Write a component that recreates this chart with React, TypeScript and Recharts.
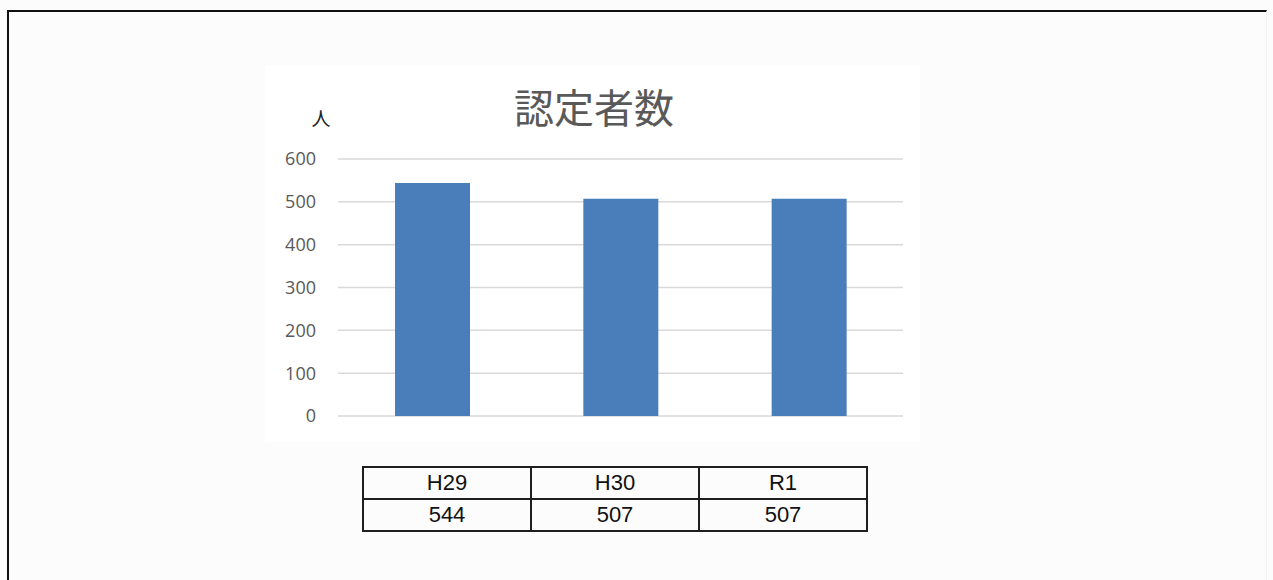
import { BarChart, Bar, XAxis, YAxis, CartesianGrid } from 'recharts';

const years = ['H29', 'H30', 'R1'];
const counts = [544, 507, 507];
const yTicks = [0, 100, 200, 300, 400, 500, 600];

const chartData = years.map((year, i) => ({ year, count: counts[i] }));

const cellStyle: React.CSSProperties = {
  border: '2px solid #1e1e1e',
  textAlign: 'center',
  padding: 0,
  height: 30,
  lineHeight: '30px',
};

export default function App() {
  return (
    <div style={{ position: 'fixed', left: 0, top: 0, width: 1273, height: 580, background: '#fcfcfc', overflow: 'hidden' }}>
      {/* outer frame */}
      <div style={{
        position: 'absolute', left: 7, top: 10, width: 1257, height: 600,
        borderLeft: '2px solid #111', borderTop: '2px solid #111', borderRight: '1px solid #f2f2f2',
      }} />

      {/* chart card */}
      <div style={{ position: 'absolute', left: 265, top: 65, width: 655, height: 377, background: '#ffffff' }}>
        <BarChart width={655} height={377} data={chartData}
                  margin={{ top: 94, right: 17, bottom: 26, left: 0 }}>
          <CartesianGrid vertical={false} stroke="#d9d9d9" strokeWidth={1.5} />
          <XAxis dataKey="year" hide />
          <YAxis
            domain={[0, 600]} ticks={yTicks} interval={0}
            axisLine={false} tickLine={false} width={73} tickMargin={16}
            tick={{ fontSize: 18, fill: '#595959', fontFamily: 'Open Sans, sans-serif' }}
          />
          <Bar dataKey="count" fill="#4a7ebb" barSize={75} isAnimationActive={false} />
        </BarChart>
      </div>

      {/* title and unit */}
      <div style={{
        position: 'absolute', left: 444, top: 78, width: 300, textAlign: 'center',
        fontFamily: '"Noto Sans CJK JP", sans-serif', fontSize: 40, color: '#595959', lineHeight: '56px',
      }}>
        認定者数
      </div>
      <div style={{
        position: 'absolute', left: 311, top: 104, width: 20, textAlign: 'center',
        fontFamily: '"Noto Sans CJK JP", sans-serif', fontSize: 19, color: '#222', lineHeight: '28px',
      }}>
        人
      </div>

      {/* data table under the chart */}
      <table style={{
        position: 'absolute', left: 362, top: 466, width: 506, borderCollapse: 'collapse',
        fontFamily: '"Liberation Sans", Arial, sans-serif', fontSize: 22, color: '#111', tableLayout: 'fixed',
      }}>
        <tbody>
          <tr>
            {years.map(y => <td key={y} style={cellStyle}>{y}</td>)}
          </tr>
          <tr>
            {counts.map((c, i) => <td key={i} style={cellStyle}>{c}</td>)}
          </tr>
        </tbody>
      </table>
    </div>
  );
}
